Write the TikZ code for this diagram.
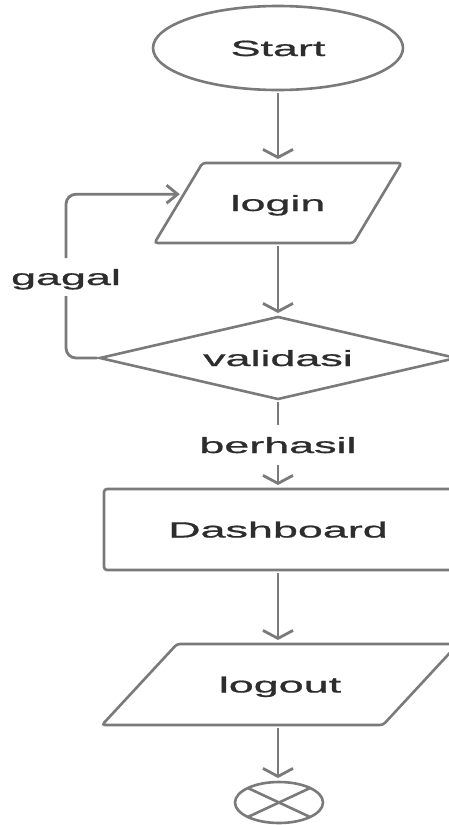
\documentclass[tikz,border=0pt]{standalone}
\usepackage{graphicx}
\usepackage{fontspec}
\usetikzlibrary{shapes.geometric,arrows.meta,calc}
\newfontfamily\lblfont[FakeBold=0.7]{Liberation Sans}
\definecolor{linegray}{RGB}{122,122,122}
\definecolor{txtgray}{RGB}{45,45,45}
\newcommand\lbl[1]{\scalebox{2.04}[1]{\lblfont\fontsize{22}{26}\selectfont #1}}
\tikzset{
  base/.style={inner sep=0pt, outer sep=0pt, text=txtgray, text height=16pt, text depth=0pt},
  outline/.style={draw=linegray, line width=2.6pt},
  line/.style={draw=linegray, line width=2.8pt},
  arr/.style={line, -{Straight Barb[length=8pt,width=30pt]}, shorten >=4pt, shorten <=3pt},
  harr/.style={line, -{Straight Barb[length=11pt,width=18pt]}, shorten >=4pt},
  startbox/.style={base, outline, ellipse, minimum width=250pt, minimum height=84pt},
  iobox/.style={base, rectangle, minimum height=80pt},
  decbox/.style={base, outline, diamond, aspect=4.3, minimum width=356pt, minimum height=82pt},
  procbox/.style={base, outline, rectangle, rounded corners=3pt, minimum width=348pt, minimum height=81pt},
  endbox/.style={outline, ellipse, inner sep=0pt, outer sep=0pt, minimum width=88pt, minimum height=41pt},
  lab/.style={base, fill=white}
}
\begin{document}
\begin{tikzpicture}[x=1pt,y=-1pt]
\useasboundingbox (0,0) rectangle (449,825);
\clip (0,0) rectangle (449,825);
\fill[white] (0,0) rectangle (449,825);

% nodes
\node[startbox] (start) at (278,48) {\lbl{Start}};
\node[iobox, minimum width=199pt] (login) at (278,203) {\lbl{login}};
\draw[outline, rounded corners=3pt]
  ([xshift=24pt]login.north west) -- ([xshift=24pt]login.north east) --
  ([xshift=-24pt]login.south east) -- ([xshift=-24pt]login.south west) -- cycle;
\coordinate (lgin) at ($([xshift=24pt]login.north west)!0.39!([xshift=-24pt]login.south west)$);
\node[decbox] (val) at (278,358) {\lbl{validasi}};
\node[procbox] (dash) at (278,529.5) {\lbl{Dashboard}};
\node[iobox, minimum width=281pt, minimum height=81pt] (logout) at (280,684.5) {\lbl{logout}};
\draw[outline, rounded corners=3pt]
  ([xshift=37.5pt]logout.north west) -- ([xshift=37.5pt]logout.north east) --
  ([xshift=-37.5pt]logout.south east) -- ([xshift=-37.5pt]logout.south west) -- cycle;
\node[endbox] (endc) at (279,802.5) {};
\draw[outline] (endc.north west) -- (endc.south east);
\draw[outline] (endc.north east) -- (endc.south west);

% labels
\node[lab, minimum height=40pt] (bh) at (278,445) {\lbl{berhasil}};
\node[lab, minimum height=38pt] (gg) at (66,277) {\lbl{gagal}};

% connectors
\draw[arr] (start.south) -- (login.north);
\draw[arr] (login.south) -- (val.north);
\draw[line, shorten <=3pt] (val.south) -- (bh.north);
\draw[arr, shorten <=0pt] (bh.south) -- (dash.north);
\draw[arr] (dash.south) -- (dash.south |- logout.north);
\draw[arr] (dash.south |- logout.south) -- (dash.south |- endc.north);
\draw[line, rounded corners=10pt, shorten <=3pt] (val.west) -| (gg.south);
\draw[harr, rounded corners=10pt] (gg.north) |- (lgin);
\end{tikzpicture}
\end{document}
